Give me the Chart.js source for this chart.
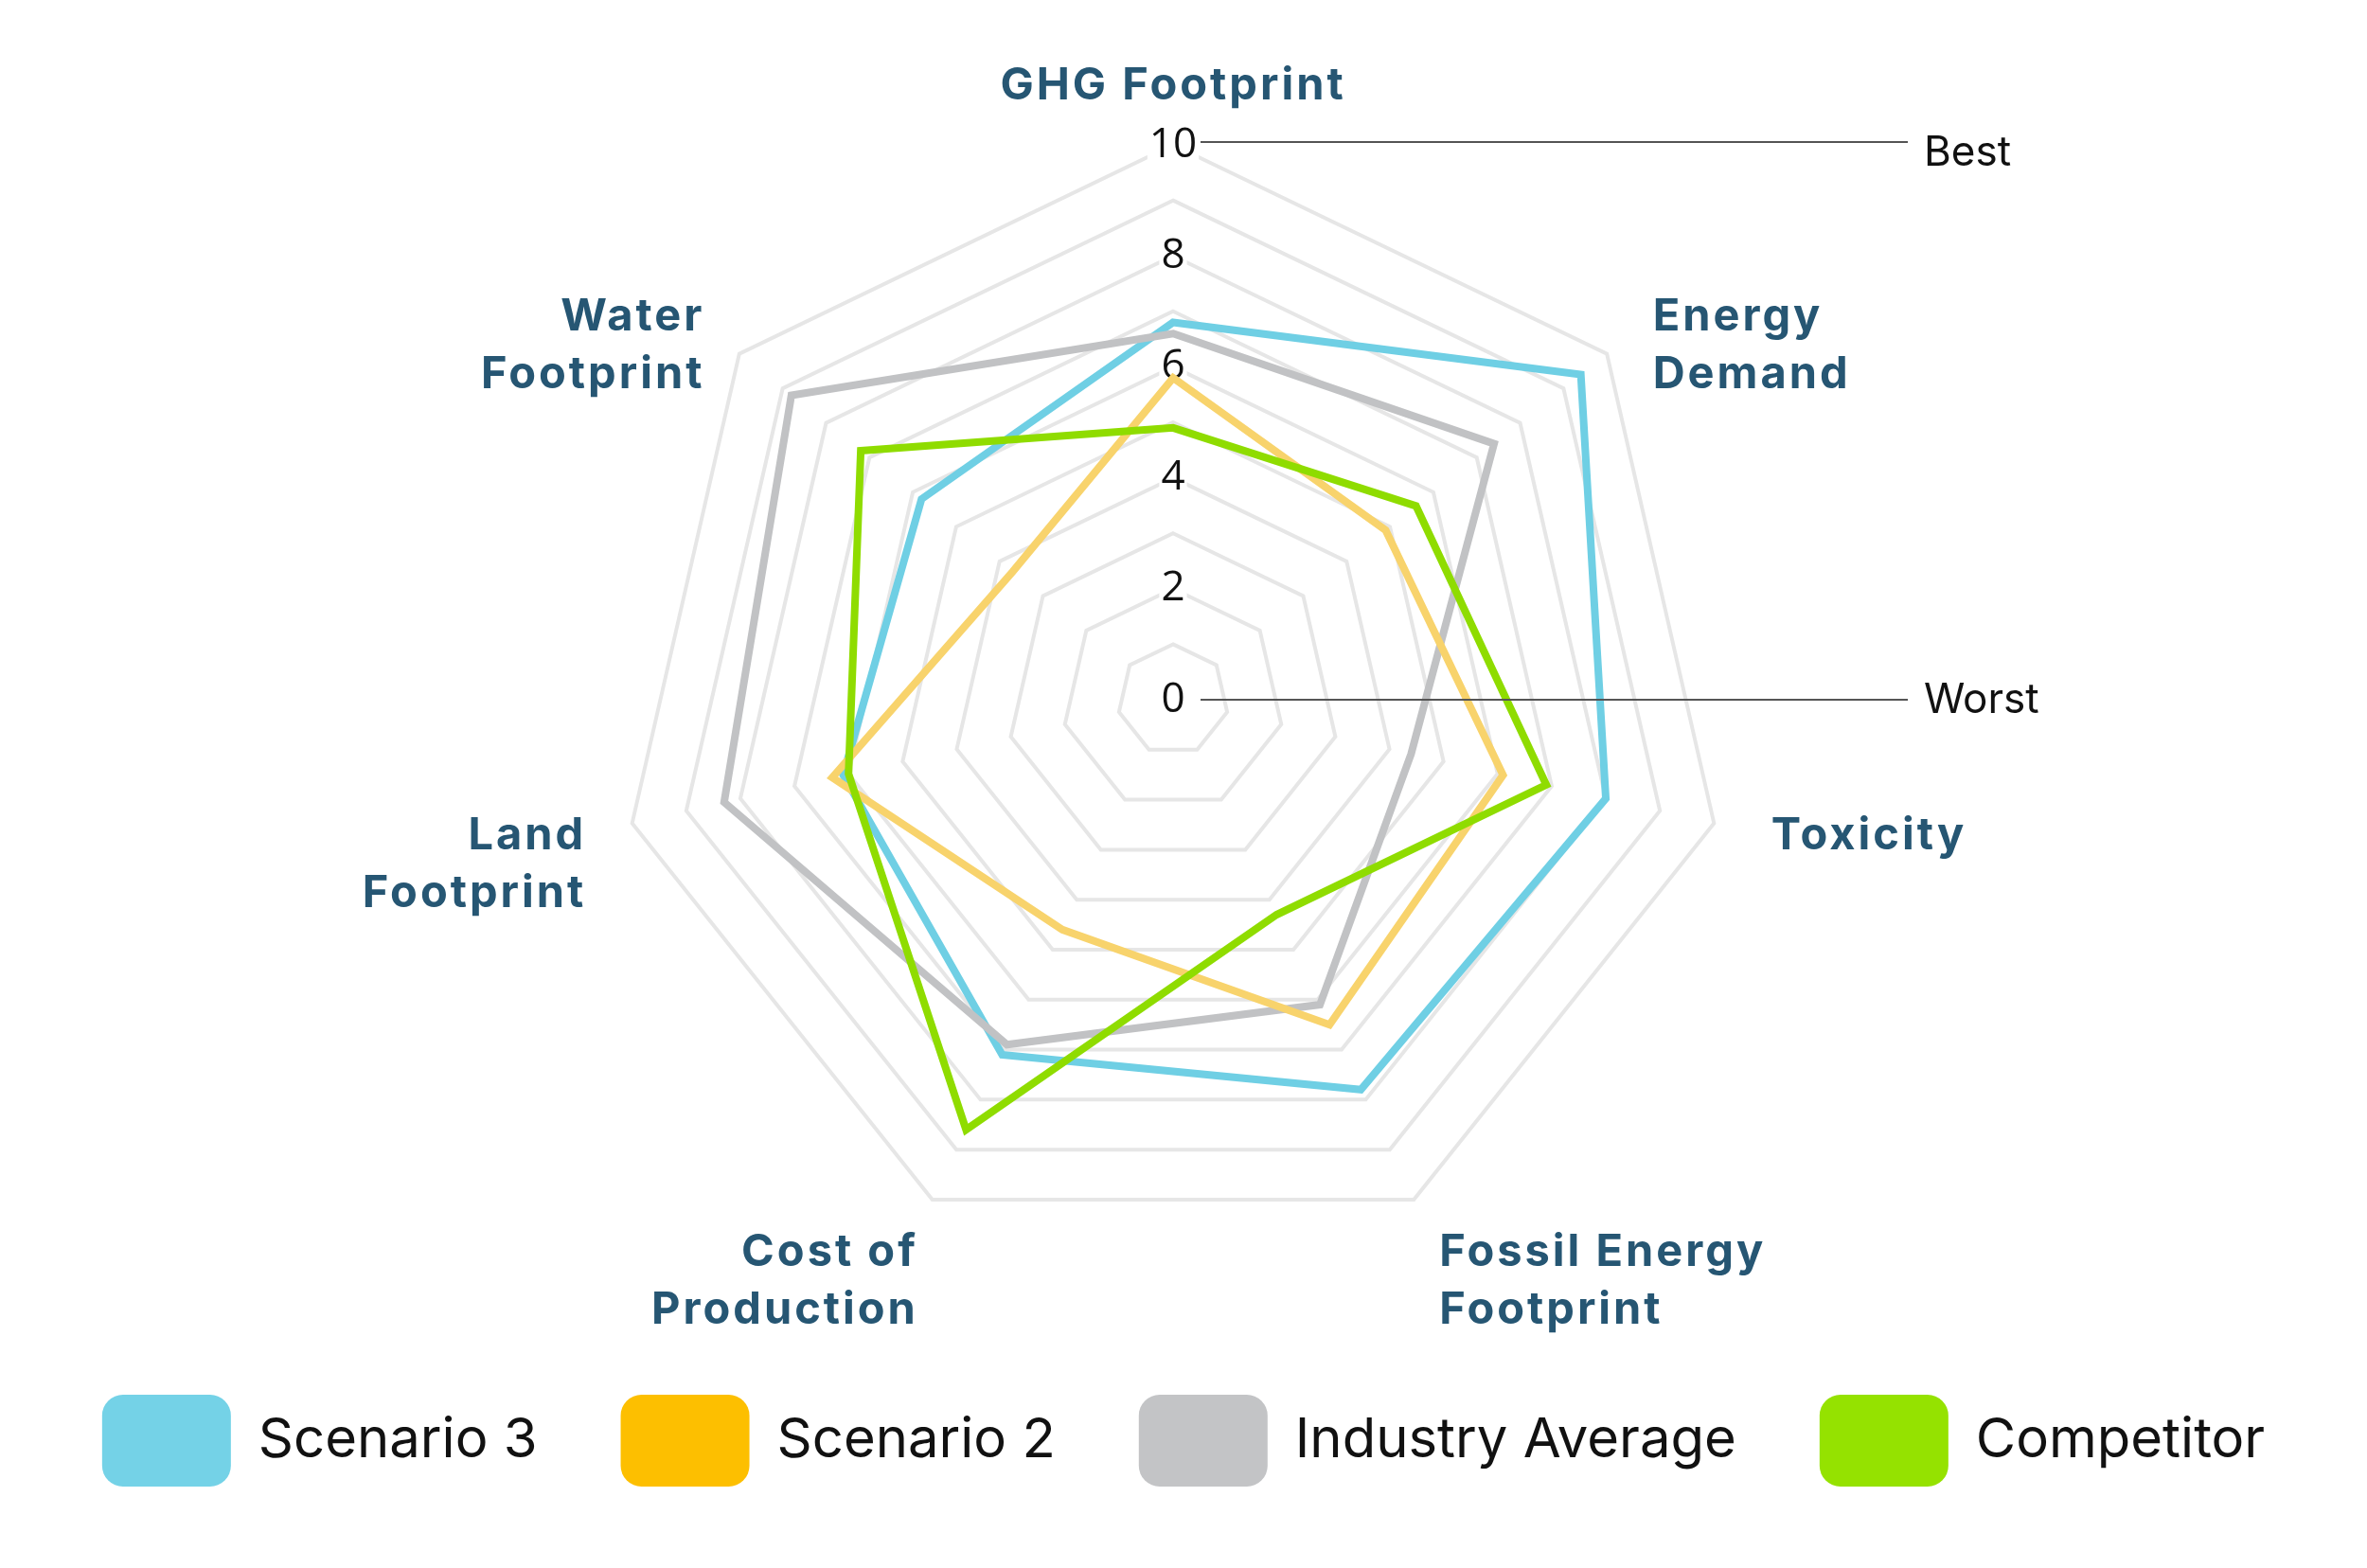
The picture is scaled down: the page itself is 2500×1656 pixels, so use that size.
<!DOCTYPE html>
<html lang="en">
<head>
    <meta charset="UTF-8">
    <meta name="viewport" content="width=device-width, initial-scale=1.0">
    <title>Sustainability Comparison</title>
    <style>
        html, body {
            margin: 0;
            padding: 0;
            background-color: #ffffff;
        }
        .chart-container {
            position: relative;
            width: 2500px;
            height: 1656px;
        }
    </style>
</head>
<body>
    <div class="chart-container">
        <canvas id="chart"></canvas>
    </div>

    <script src="https://cdn.jsdelivr.net/npm/chart.js"></script>
    <script>
        // Data
        const categories = [
            'GHG Footprint',
            ['Energy', 'Demand'],
            'Toxicity',
            ['Fossil Energy', 'Footprint'],
            ['Cost of', 'Production'],
            ['Land', 'Footprint'],
            ['Water', 'Footprint']
        ];
        const seriesNames = ['Scenario 3', 'Scenario 2', 'Industry Average', 'Competitor'];
        const scenario3 = [6.8, 9.4, 8.0, 7.8, 7.1, 6.1, 5.8];
        const scenario2 = [5.8, 4.9, 6.1, 6.5, 4.6, 6.3, 3.7];
        const industryAverage = [6.6, 7.4, 4.4, 6.1, 6.9, 8.3, 8.8];
        const competitor = [4.9, 5.6, 6.9, 4.3, 8.6, 6.0, 7.2];
        const tickValues = [0, 2, 4, 6, 8, 10];
        const scaleEnds = { low: 'Worst', high: 'Best' };

        // Styles
        const lineColors = ['#6fcfe4', '#f8d36c', '#c1c2c4', '#8fdc00'];
        const legendColors = ['#74d2e7', '#fdbf00', '#c3c4c6', '#95e200'];
        const drawOrder = [3, 1, 2, 0];
        const geom = { cx: 1239, cy: 739, radius: 586, labelDist: 648, lineHeight: 61, leftNudge: 12 };

        // Fix the radar position and draw the custom labels
        const radarFrame = {
            id: 'radarFrame',
            afterLayout(chart) {
                const r = chart.scales.r;
                r.xCenter = geom.cx;
                r.yCenter = geom.cy;
                r.drawingArea = geom.radius;
            },
            afterDatasetsDraw(chart) {
                const r = chart.scales.r;
                const ctx = chart.ctx;
                ctx.save();

                // category labels
                ctx.font = '700 47px Inter';
                ctx.letterSpacing = '3px';
                ctx.fillStyle = '#265673';
                ctx.textBaseline = 'middle';
                chart.data.labels.forEach((label, i) => {
                    const p = r.getPointPosition(i, geom.labelDist);
                    const dx = p.x - r.xCenter;
                    let x = p.x;
                    if (Math.abs(dx) < 1) {
                        ctx.textAlign = 'center';
                    } else if (dx > 0) {
                        ctx.textAlign = 'left';
                    } else {
                        ctx.textAlign = 'right';
                        x += geom.leftNudge;
                    }
                    [].concat(label).forEach((line, k) => {
                        ctx.fillText(line, x, p.y + k * geom.lineHeight);
                    });
                });
                ctx.letterSpacing = '0px';

                // the zero tick that the scale skips
                ctx.font = '44px "Open Sans"';
                ctx.fillStyle = '#111111';
                ctx.textAlign = 'center';
                ctx.fillText(String(r.min), r.xCenter, r.yCenter);

                // best / worst markers
                const yTop = r.yCenter - r.getDistanceFromCenterForValue(r.max);
                const yLow = r.yCenter - r.getDistanceFromCenterForValue(r.min);
                ctx.strokeStyle = '#555555';
                ctx.lineWidth = 2;
                ctx.beginPath();
                ctx.moveTo(r.xCenter + 29, yTop - 3);
                ctx.lineTo(r.xCenter + 776, yTop - 3);
                ctx.moveTo(r.xCenter + 29, yLow);
                ctx.lineTo(r.xCenter + 776, yLow);
                ctx.stroke();
                ctx.font = '44px Inter';
                ctx.textAlign = 'left';
                ctx.fillText(scaleEnds.high, r.xCenter + 793, yTop + 9);
                ctx.fillText(scaleEnds.low, r.xCenter + 793, yLow + 1);

                ctx.restore();
            }
        };

        const seriesValues = [scenario3, scenario2, industryAverage, competitor];
        const datasets = seriesNames.map((name, i) => ({
            label: name,
            data: seriesValues[i],
            borderColor: lineColors[i],
            backgroundColor: legendColors[i],
            borderWidth: 8,
            pointRadius: 0,
            pointHoverRadius: 0,
            fill: false,
            order: drawOrder[i]
        }));

        const ctx = document.getElementById('chart').getContext('2d');
        const chart = new Chart(ctx, {
            type: 'radar',
            data: {
                labels: categories,
                datasets: datasets
            },
            plugins: [radarFrame],
            options: {
                responsive: true,
                maintainAspectRatio: false,
                animation: false,
                layout: {
                    padding: { left: 0, right: 0, bottom: 76 }
                },
                elements: {
                    line: { borderJoinStyle: 'miter', tension: 0 }
                },
                scales: {
                    r: {
                        min: 0,
                        max: 10,
                        angleLines: { display: false },
                        grid: { color: '#e6e6e6', lineWidth: 4 },
                        pointLabels: { display: false },
                        ticks: {
                            stepSize: 1,
                            color: '#111111',
                            font: { family: 'Open Sans', size: 44 },
                            backdropColor: '#ffffff',
                            backdropPadding: 2,
                            showLabelBackdrop: (c) => tickValues.includes(c.tick.value),
                            callback: (v) => tickValues.includes(v) ? String(v) : ''
                        }
                    }
                },
                plugins: {
                    tooltip: { enabled: false },
                    legend: {
                        position: 'bottom',
                        labels: {
                            boxWidth: 136,
                            boxHeight: 97,
                            padding: 88,
                            color: '#111111',
                            font: { family: 'Inter', size: 58 },
                            useBorderRadius: true,
                            borderRadius: 22,
                            sort: (a, b) => a.datasetIndex - b.datasetIndex,
                            generateLabels: (c) => Chart.defaults.plugins.legend.labels.generateLabels(c).map(item => Object.assign(item, {
                                lineWidth: 0,
                                fillStyle: legendColors[item.datasetIndex]
                            }))
                        }
                    }
                }
            }
        });
    </script>
</body>
</html>
